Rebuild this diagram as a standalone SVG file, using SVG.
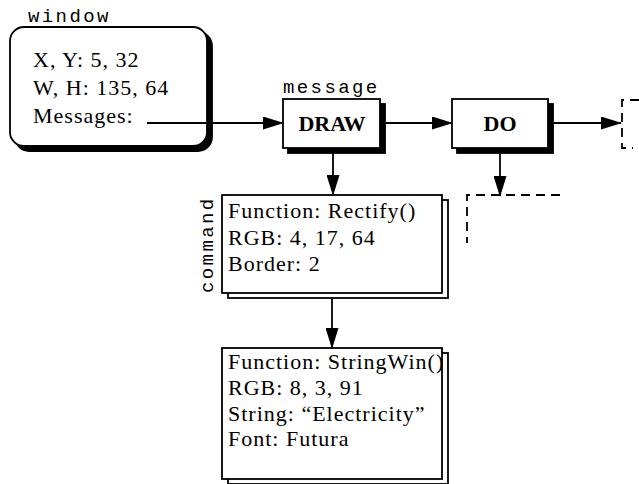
<svg xmlns="http://www.w3.org/2000/svg" width="639" height="484" viewBox="0 0 639 484">
  <style>
    .bg { fill: #ffffff; }
    .box { fill: #ffffff; stroke: #000; stroke-width: 1.8; }
    .shadow { fill: #000; stroke: #000; stroke-width: 1.8; }
    .body { font-family: "Liberation Serif", "Times New Roman", serif; font-size: 22px; letter-spacing: 1px; fill: #000; }
    .title { font-family: "Liberation Serif", "Times New Roman", serif; font-size: 22px; font-weight: bold; fill: #000; text-anchor: middle; }
    .tag { font-family: "Liberation Mono", "Courier New", monospace; font-size: 19px; letter-spacing: 2.4px; fill: #000; }
    .wire { fill: none; stroke: #000; stroke-width: 1.8; }
    .dash { fill: none; stroke: #000; stroke-width: 1.8; stroke-dasharray: 9 6; }
  </style>
  <defs>
    <marker id="head" markerUnits="userSpaceOnUse" markerWidth="21" markerHeight="13" refX="20" refY="6.5" orient="auto">
      <path d="M0,0 L21,6.5 L0,13 Z" fill="#000"/>
    </marker>
  </defs>

  <rect class="bg" x="0" y="0" width="639" height="484"/>

  <!-- window object -->
  <g id="window">
    <text class="tag" x="28" y="22">window</text>
    <rect class="shadow" x="15" y="32" width="197" height="119" rx="14"/>
    <rect class="box" x="10" y="27" width="197" height="119" rx="14"/>
    <text class="body" x="33" y="67">X, Y: 5, 32</text>
    <text class="body" x="33" y="95">W, H: 135, 64</text>
    <text class="body" x="33" y="123">Messages:</text>
  </g>

  <!-- DRAW message -->
  <g id="msg-draw">
    <text class="tag" x="283" y="93">message</text>
    <rect class="shadow" x="288" y="104" width="97" height="49"/>
    <rect class="box" x="283" y="99" width="97" height="49"/>
    <text class="title" x="332" y="131">DRAW</text>
  </g>

  <!-- DO message -->
  <g id="msg-do">
    <rect class="shadow" x="457" y="104" width="96" height="49"/>
    <rect class="box" x="452" y="99" width="96" height="49"/>
    <text class="title" x="500" y="131">DO</text>
  </g>

  <!-- next message, partly shown -->
  <g id="msg-next">
    <path class="dash" d="M639,100 H622 V148 H633"/>
  </g>

  <!-- command attached to DO, partly shown -->
  <g id="cmd-do">
    <path class="dash" d="M560,195 H467 V243"/>
  </g>

  <!-- Rectify command -->
  <g id="cmd-rectify">
    <text class="tag" transform="translate(213,293) rotate(-90)" x="0" y="0">command</text>
    <rect class="box" x="228" y="200" width="220" height="98"/>
    <rect class="box" x="222" y="195" width="220" height="98"/>
    <text class="body" x="228" y="218">Function: Rectify()</text>
    <text class="body" x="228" y="245">RGB: 4, 17, 64</text>
    <text class="body" x="228" y="271">Border: 2</text>
  </g>

  <!-- StringWin command -->
  <g id="cmd-stringwin">
    <rect class="box" x="228" y="353" width="220" height="131"/>
    <rect class="box" x="222" y="348" width="220" height="131"/>
    <text class="body" x="228" y="369">Function: StringWin()</text>
    <text class="body" x="228" y="395">RGB: 8, 3, 91</text>
    <text class="body" x="228" y="421">String: “Electricity”</text>
    <text class="body" x="228" y="446">Font: Futura</text>
  </g>

  <!-- connectors -->
  <g id="connectors">
    <path class="wire" d="M147,123 H283" marker-end="url(#head)"/>
    <path class="wire" d="M385,123 H452" marker-end="url(#head)"/>
    <path class="wire" d="M553,123 H621" marker-end="url(#head)"/>
    <path class="wire" d="M333,153 V195" marker-end="url(#head)"/>
    <path class="wire" d="M500,154 V196" marker-end="url(#head)"/>
    <path class="wire" d="M332,298 V348" marker-end="url(#head)"/>
  </g>
</svg>
